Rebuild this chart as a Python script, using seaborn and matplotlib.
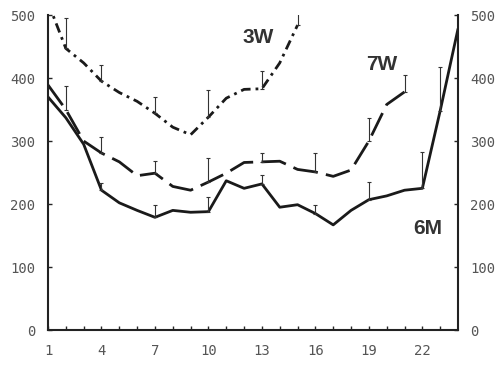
import numpy as np
import pandas as pd
import matplotlib
matplotlib.use("Agg")
import matplotlib.pyplot as plt
import seaborn as sns

# Curves (x = position index)
x_6m = list(range(1, 25))
y_6m = [370, 337, 295, 222, 202, 190, 179, 190, 187, 188, 237, 225,
        232, 195, 199, 185, 167, 190, 207, 213, 222, 225, 348, 478]

x_7w = list(range(1, 22))
y_7w = [389, 350, 300, 281, 267, 245, 249, 228, 222, 235, 249, 266,
        267, 268, 255, 251, 244, 254, 300, 358, 378]

x_3w = list(range(1, 16))
y_3w = [520, 447, 424, 395, 377, 363, 344, 322, 310, 338, 368, 382,
        383, 424, 484]

# Upper error bars (only drawn upward)
err_x_6m = [4, 7, 10, 13, 16, 19, 22, 23]
err_6m = [12, 19, 23, 14, 13, 28, 58, 70]
err_x_7w = [2, 4, 7, 10, 13, 16, 19, 21]
err_7w = [37, 25, 19, 38, 14, 30, 36, 27]
err_x_3w = [2, 4, 7, 10, 13, 15]
err_3w = [48, 26, 26, 43, 28, 19]

x_ticks = [1, 4, 7, 10, 13, 16, 19, 22]
y_ticks = [0, 100, 200, 300, 400, 500]

sns.set_style("ticks")
plt.rcParams['font.family'] = ['DejaVu Sans Mono', 'DejaVu Sans']

fig = plt.figure(figsize=(5, 3.66), dpi=100)
ax = fig.add_axes([0.096, 0.098, 0.82, 0.861])

line_col = "#1a1a1a"
df_6m = pd.DataFrame({"x": x_6m, "y": y_6m})
df_7w = pd.DataFrame({"x": x_7w, "y": y_7w})
df_3w = pd.DataFrame({"x": x_3w, "y": y_3w})

sns.lineplot(data=df_6m, x="x", y="y", ax=ax, color=line_col, lw=2)
sns.lineplot(data=df_7w, x="x", y="y", ax=ax, color=line_col, lw=2,
             linestyle=(0, (9, 3)))
sns.lineplot(data=df_3w, x="x", y="y", ax=ax, color=line_col, lw=2,
             linestyle=(0, (3.5, 1.8, 1, 1.8)))

def upper_bars(xs, errs, xc, yc):
    ym = [yc[xc.index(v)] for v in xs]
    ax.errorbar(xs, ym, yerr=[np.zeros(len(errs)), errs], fmt="none",
                ecolor="#333333", elinewidth=0.8, capsize=1.5, capthick=0.8)

upper_bars(err_x_6m, err_6m, x_6m, y_6m)
upper_bars(err_x_7w, err_7w, x_7w, y_7w)
upper_bars(err_x_3w, err_3w, x_3w, y_3w)

lab_kw = dict(fontsize=15, fontweight="bold", color="#333333",
              ha="center", va="center", family="Liberation Sans")
ax.text(12.8, 465, "3W", **lab_kw)
ax.text(19.7, 422, "7W", **lab_kw)
ax.text(22.3, 162, "6M", **lab_kw)

ax.set_xlim(1, 24)
ax.set_ylim(0, 500)
ax.set_xticks(x_ticks)
ax.set_xticks(range(2, 24), minor=True)
ax.set_yticks(y_ticks)
ax.set_xlabel("")
ax.set_ylabel("")

sns.despine(ax=ax, top=True, right=False)
for s in ["left", "right", "bottom"]:
    ax.spines[s].set_linewidth(1.5)
    ax.spines[s].set_color("#222222")

ax.tick_params(axis="y", which="both", direction="in", length=3, width=1,
               right=True, labelright=True, pad=9, labelsize=10,
               labelcolor="#555555")
ax.tick_params(axis="x", which="major", direction="in", length=3, width=1,
               pad=10, labelsize=10, labelcolor="#555555")
ax.tick_params(axis="x", which="minor", direction="in", length=3, width=1)

fig.savefig("out.png", dpi=100)
